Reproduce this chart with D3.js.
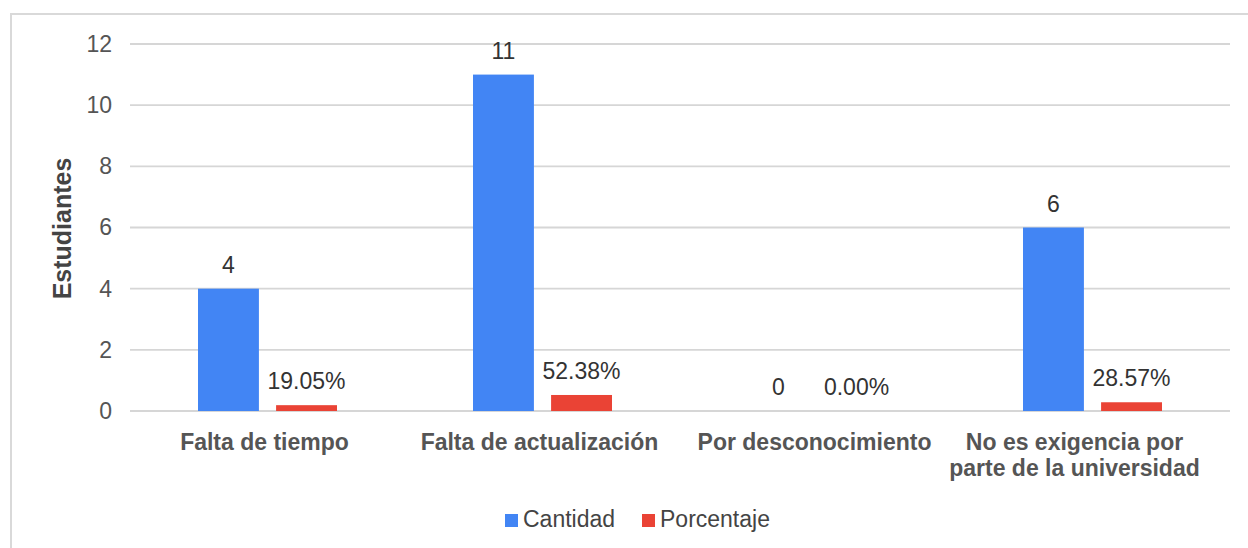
<!DOCTYPE html>
<html>
<head>
<meta charset="utf-8">
<script src="https://cdn.jsdelivr.net/npm/d3@7"></script>
<style>
  body { margin: 0; background: #fff; }
  svg { display: block; font-family: Arial, "Liberation Sans", sans-serif; }
</style>
</head>
<body>
<div id="chart"></div>
<script>
var categories = [
    ["Falta de tiempo"],
    ["Falta de actualización"],
    ["Por desconocimiento"],
    ["No es exigencia por", "parte de la universidad"]
];
var cantidad = [4, 11, 0, 6];
var porcentaje = [0.1905, 0.5238, 0, 0.2857];
var seriesNames = ["Cantidad", "Porcentaje"];
var yTicks = [0, 2, 4, 6, 8, 10, 12];

var W = 1248, H = 548;
var margin = { top: 44, right: 18, bottom: 137, left: 130 },
    width = W - margin.left - margin.right,
    height = H - margin.top - margin.bottom;

var colors = ["#4285f4", "#ea4335"];

var svg = d3.select("#chart").append("svg")
    .attr("width", W)
    .attr("height", H);

// outer frame
svg.append("rect")
    .attr("x", 11).attr("y", 14)
    .attr("width", W + 20).attr("height", H + 20)
    .attr("fill", "none")
    .attr("stroke", "#d9d9d9")
    .attr("stroke-width", 2);

var g = svg.append("g")
    .attr("transform", "translate(" + margin.left + "," + margin.top + ")");

var x0 = d3.scaleBand().domain(d3.range(categories.length)).range([0, width]);
var x1 = d3.scaleBand().domain([0, 1]).range([x0.bandwidth() / 2 - 69.5, x0.bandwidth() / 2 + 69.5]).paddingInner(0.22);
var y = d3.scaleLinear().domain([0, 12]).range([height, 0]);

// gridlines
g.append("g")
    .selectAll("line")
    .data(yTicks)
    .enter().append("line")
    .attr("x1", 0).attr("x2", width)
    .attr("y1", function(d) { return y(d); })
    .attr("y2", function(d) { return y(d); })
    .attr("stroke", "#d6d6d6")
    .attr("stroke-width", 1.8);

// y axis labels
var yAxis = g.append("g")
    .call(d3.axisLeft(y).tickValues(yTicks).tickSize(0).tickPadding(18));
yAxis.select(".domain").remove();
yAxis.selectAll("text")
    .style("font-size", "23px")
    .style("font-family", "Arial, 'Liberation Sans', sans-serif")
    .attr("fill", "#555");

svg.append("text")
    .attr("transform", "translate(71," + (margin.top + height / 2 + 1) + ") rotate(-90)")
    .attr("text-anchor", "middle")
    .style("font-size", "25px")
    .style("font-weight", "bold")
    .attr("fill", "#444")
    .text("Estudiantes");

var data = categories.map(function(c, i) {
    return [
        { s: 0, i: i, v: cantidad[i], label: String(cantidad[i]) },
        { s: 1, i: i, v: porcentaje[i], label: (porcentaje[i] * 100).toFixed(2) + "%" }
    ];
});

var groups = g.selectAll(".cat")
    .data(data)
    .enter().append("g")
    .attr("class", "cat")
    .attr("transform", function(d, i) { return "translate(" + x0(i) + ",0)"; });

groups.selectAll("rect")
    .data(function(d) { return d; })
    .enter().append("rect")
    .attr("x", function(d) { return x1(d.s); })
    .attr("width", x1.bandwidth())
    .attr("y", function(d) { return y(d.v); })
    .attr("height", function(d) { return height - y(d.v); })
    .attr("fill", function(d) { return colors[d.s]; });

groups.selectAll(".lbl")
    .data(function(d) { return d; })
    .enter().append("text")
    .attr("class", "lbl")
    .attr("x", function(d) { return x1(d.s) + x1.bandwidth() / 2; })
    .attr("y", function(d) { return y(d.v) - 16; })
    .attr("text-anchor", "middle")
    .style("font-size", "23px")
    .attr("fill", "#333")
    .text(function(d) { return d.label; });

// category labels (wrapped label sits a bit left of its band centre)
var catLabels = g.selectAll(".catlbl")
    .data(categories)
    .enter().append("text")
    .attr("class", "catlbl")
    .attr("x", function(d, i) { return x0(i) + x0.bandwidth() / 2 - (d.length > 1 ? 18 : 3); })
    .attr("y", height + 39)
    .attr("text-anchor", "middle")
    .style("font-size", "23px")
    .style("font-weight", "bold")
    .attr("fill", "#555");

catLabels.selectAll("tspan")
    .data(function(d) { return d; })
    .enter().append("tspan")
    .attr("x", function() { return d3.select(this.parentNode).attr("x"); })
    .attr("dy", function(d, j) { return j === 0 ? 0 : 26; })
    .text(function(d) { return d; });

// legend
var legend = svg.append("g")
    .attr("transform", "translate(505,527)");
var legendX = [0, 137];
var items = legend.selectAll(".leg")
    .data(seriesNames)
    .enter().append("g")
    .attr("transform", function(d, i) { return "translate(" + legendX[i] + ",0)"; });
items.append("rect")
    .attr("x", 0).attr("y", -13)
    .attr("width", 13).attr("height", 13)
    .attr("fill", function(d, i) { return colors[i]; });
items.append("text")
    .attr("x", 18).attr("y", 0)
    .style("font-size", "23px")
    .attr("fill", "#444")
    .text(function(d) { return d; });
</script>
</body>
</html>
